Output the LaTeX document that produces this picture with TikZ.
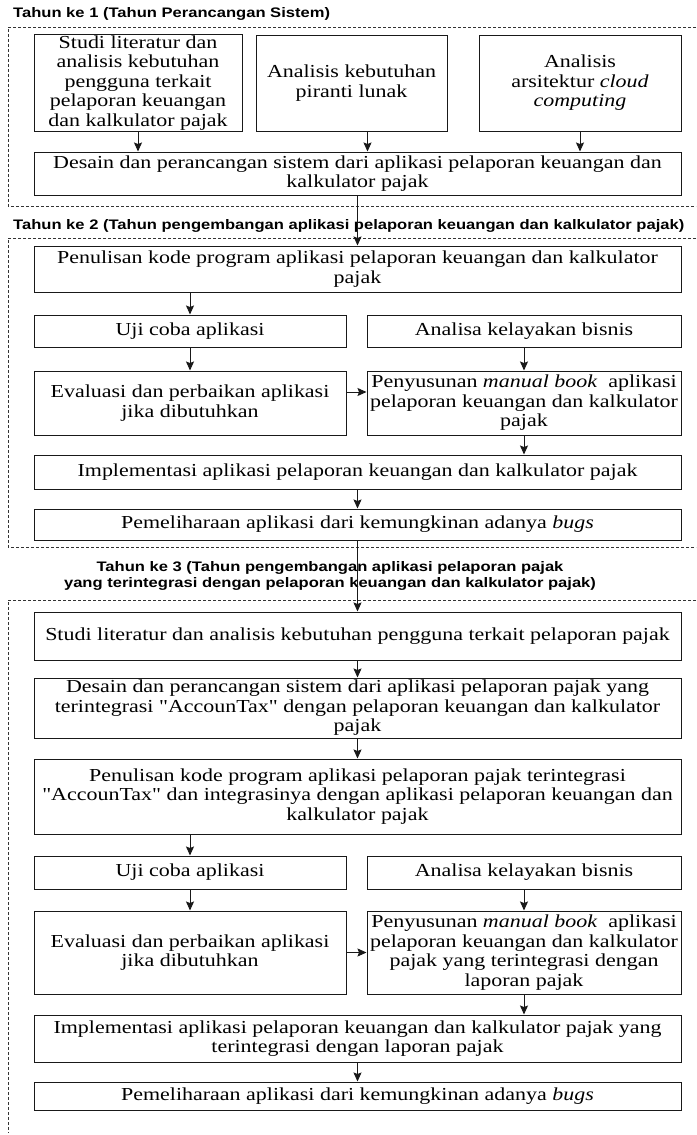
\documentclass[tikz,border=0pt]{standalone}
\usepackage{fontspec}
\setmainfont{Liberation Serif}[FakeStretch=1.2]
\newfontfamily\polos{Liberation Serif}[FakeStretch=1.2]
\newfontfamily\judulfont{Liberation Sans}[FakeStretch=1.2]
\newcommand{\kutip}{{\polos"}}
\usetikzlibrary{arrows.meta}

\begin{document}
\begin{tikzpicture}[x=1pt,y=-1pt,
  kotak/.style={draw=black!90, line width=1pt, align=center, inner sep=1pt,
    font=\fontsize{18.3}{19.5}\selectfont, text=black},
  ukuran/.style 2 args={minimum width=#1pt, minimum height=#2pt},
  panah/.style={draw=black!90, line width=1pt, -{Stealth[length=9pt,width=8pt,inset=1.5pt]}},
  bingkai/.style={draw=black!80, line width=0.7pt, dash pattern=on 3pt off 2pt},
  judul/.style={font=\judulfont\bfseries\fontsize{13.8}{16}\selectfont, inner sep=0pt, align=center}]
\useasboundingbox (0,0) rectangle (696,1135);

% tahun 1
\draw[bingkai] (696,27) -- (8,27) -- (8,206) -- (696,206);
\node[judul, anchor=west] (t1) at (13,14) {Tahun ke 1 (Tahun Perancangan Sistem)};
\node[kotak, ukuran={208}{96}] (A) at (138,83) {Studi literatur dan\\analisis kebutuhan\\pengguna terkait\\pelaporan keuangan\\dan kalkulator pajak};
\node[kotak, ukuran={191}{96}] (B) at (351.5,83) {Analisis kebutuhan\\piranti lunak};
\node[kotak, ukuran={202}{96}] (C) at (580,83) {Analisis\\arsitektur \textit{cloud}\\\textit{computing}};
\node[kotak, ukuran={647}{43}] (D) at (357.5,173.5) {Desain dan perancangan sistem dari aplikasi pelaporan keuangan dan\\kalkulator pajak};

% tahun 2
\draw[bingkai] (696,238) -- (8,238) -- (8,547) -- (696,547);
\node[judul, anchor=west] (t2) at (13,226) {Tahun ke 2 (Tahun pengembangan aplikasi pelaporan keuangan dan kalkulator pajak)};
\node[kotak, ukuran={647}{46}] (E) at (357.5,269) {Penulisan kode program aplikasi pelaporan keuangan dan kalkulator\\pajak};
\node[kotak, ukuran={312}{32}] (F) at (190,331) {Uji coba aplikasi};
\node[kotak, ukuran={314}{32}] (G) at (524,331) {Analisa kelayakan bisnis};
\node[kotak, ukuran={312}{64}] (H) at (190,403) {Evaluasi dan perbaikan aplikasi\\jika dibutuhkan};
\node[kotak, ukuran={314}{64}] (I) at (524,403) {Penyusunan \textit{manual book}~ aplikasi\\pelaporan keuangan dan kalkulator\\pajak};
\node[kotak, ukuran={647}{34}] (J) at (357.5,472) {Implementasi aplikasi pelaporan keuangan dan kalkulator pajak};
\node[kotak, ukuran={647}{31}] (K) at (357.5,524.5) {Pemeliharaan aplikasi dari kemungkinan adanya \textit{bugs}};

% tahun 3
\draw[bingkai] (696,600) -- (8,600) -- (8,1133);
\node[judul] (t3) at (330,575.5) {Tahun ke 3 (Tahun pengembangan aplikasi pelaporan pajak\\yang terintegrasi dengan pelaporan keuangan dan kalkulator pajak)};
\node[kotak, ukuran={647}{48}] (L) at (357.5,636) {Studi literatur dan analisis kebutuhan pengguna terkait pelaporan pajak};
\node[kotak, ukuran={647}{60}] (M) at (357.5,708) {Desain dan perancangan sistem dari aplikasi pelaporan pajak yang\\terintegrasi \kutip AccounTax\kutip\ dengan pelaporan keuangan dan kalkulator\\pajak};
\node[kotak, ukuran={647}{75}] (P) at (357.5,796.5) {Penulisan kode program aplikasi pelaporan pajak terintegrasi\\\kutip AccounTax\kutip\ dan integrasinya dengan aplikasi pelaporan keuangan dan\\kalkulator pajak};
\node[kotak, ukuran={312}{33}] (F3) at (190,872.5) {Uji coba aplikasi};
\node[kotak, ukuran={314}{33}] (G3) at (524,872.5) {Analisa kelayakan bisnis};
\node[kotak, ukuran={312}{83}] (H3) at (190,952.5) {Evaluasi dan perbaikan aplikasi\\jika dibutuhkan};
\node[kotak, ukuran={314}{83}] (I3) at (524,952.5) {Penyusunan \textit{manual book}~ aplikasi\\pelaporan keuangan dan kalkulator\\pajak yang terintegrasi dengan\\laporan pajak};
\node[kotak, ukuran={647}{47}] (N) at (357.5,1038.5) {Implementasi aplikasi pelaporan keuangan dan kalkulator pajak yang\\terintegrasi dengan laporan pajak};
\node[kotak, ukuran={647}{28}] (O) at (357.5,1096) {Pemeliharaan aplikasi dari kemungkinan adanya \textit{bugs}};

% panah
\coordinate (bd) at ([xshift=16pt]B.south);
\coordinate (hi) at ([yshift=11pt]H.east);
\draw[panah] (A.south) -- (A.south |- D.north);
\draw[panah] (bd) -- (bd |- D.north);
\draw[panah] (C.south) -- (C.south |- D.north);
\draw[panah] (D.south) -- (E.north);
\draw[panah] (F.north |- E.south) -- (F.north);
\draw[panah] (F.south) -- (H.north);
\draw[panah] (G.south) -- (I.north);
\draw[panah] (hi) -- (hi -| I.west);
\draw[panah] (I.south) -- (I.south |- J.north);
\draw[panah] (J.south) -- (K.north);
\draw[panah] (K.south) -- (L.north);
\draw[panah] (L.south) -- (M.north);
\draw[panah] (M.south) -- (P.north);
\draw[panah] (F3.north |- P.south) -- (F3.north);
\draw[panah] (F3.south) -- (H3.north);
\draw[panah] (G3.south) -- (I3.north);
\draw[panah] (H3.east) -- (I3.west);
\draw[panah] (I3.south) -- (I3.south |- N.north);
\draw[panah] (N.south) -- (O.north);
\end{tikzpicture}
\end{document}
